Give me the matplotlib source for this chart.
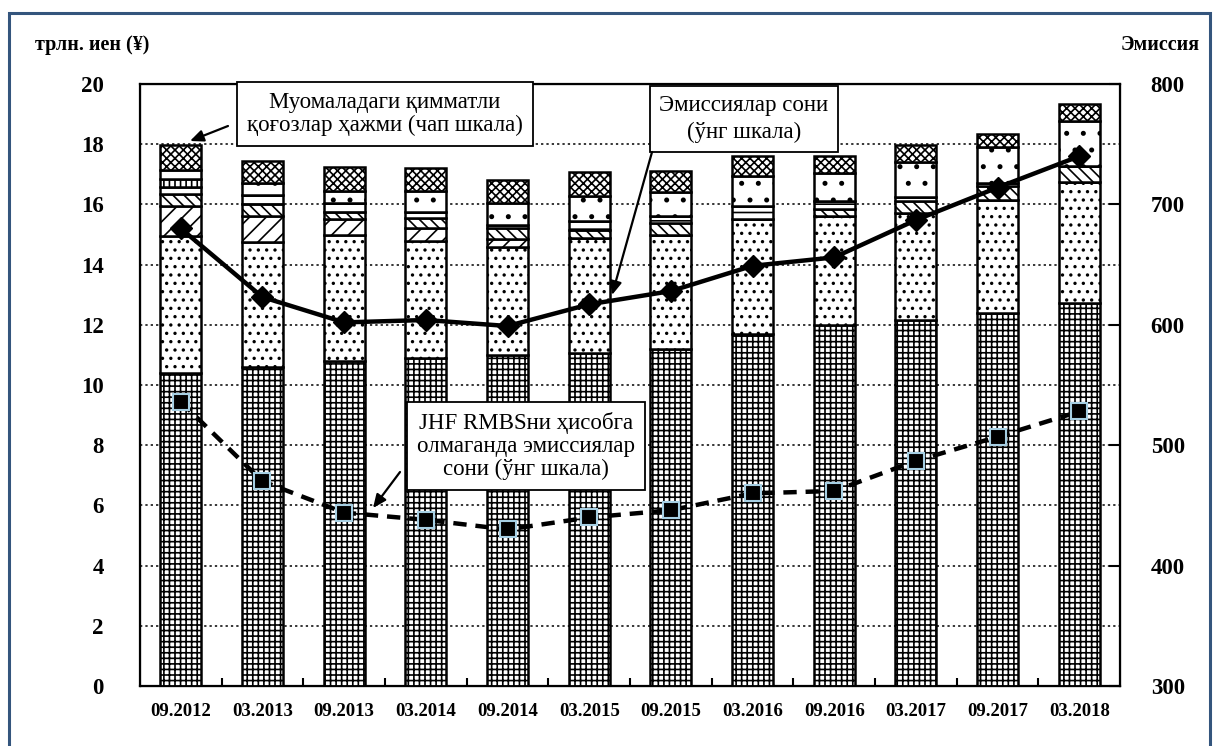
import numpy as np
import matplotlib
matplotlib.use('Agg')
import matplotlib.pyplot as plt
from matplotlib.patches import Rectangle

plt.rcParams['font.family'] = ['Liberation Serif', 'DejaVu Serif']
plt.rcParams['hatch.linewidth'] = 1.2

# даты (категории)
periods = ['09.2012', '03.2013', '09.2013', '03.2014', '09.2014', '03.2015',
           '09.2015', '03.2016', '09.2016', '03.2017', '09.2017', '03.2018']

# сегменты столбцов, трлн иен (снизу вверх)
seg_a = [10.4, 10.6, 10.8, 10.9, 11.0, 11.07, 11.2, 11.7, 12.0, 12.15, 12.4, 12.73]
seg_b = [4.55, 4.16, 4.2, 3.9, 3.6, 3.8, 3.8, 3.8, 3.6, 3.55, 3.75, 4.0]
seg_c = [1.0, 0.84, 0.5, 0.4, 0.25, 0.0, 0.0, 0.0, 0.0, 0.0, 0.0, 0.0]
seg_d = [0.4, 0.4, 0.25, 0.35, 0.35, 0.27, 0.38, 0.0, 0.25, 0.4, 0.45, 0.55]
seg_e = [0.24, 0.3, 0.3, 0.2, 0.1, 0.3, 0.22, 0.45, 0.25, 0.15, 0.1, 0.0]
seg_f = [0.25, 0.0, 0.0, 0.0, 0.0, 0.0, 0.0, 0.0, 0.0, 0.0, 0.0, 0.0]
seg_g = [0.3, 0.4, 0.4, 0.7, 0.75, 0.85, 0.8, 1.0, 0.95, 1.15, 1.2, 1.5]
seg_h = [0.83, 0.75, 0.8, 0.75, 0.75, 0.8, 0.7, 0.65, 0.55, 0.58, 0.45, 0.55]

# число эмиссий (правая шкала)
issues_all = [680, 623, 602, 604, 599, 617, 628, 649, 656, 687, 714, 740]
issues_ex_jhf = [536, 470, 444, 438, 430, 440, 446, 460, 462, 487, 507, 528]

segments = [seg_a, seg_b, seg_c, seg_d, seg_e, seg_f, seg_g, seg_h]
hatches = ['+++', '..', '//', '\\\\\\', '--', '|||', '.', 'xxxx']

fig = plt.figure(figsize=(12.13, 7.46), dpi=100)
ax = fig.add_axes([0.1154, 0.0804, 0.808, 0.807])
x = np.arange(len(periods))

bottom = np.zeros(len(periods))
for vals, h in zip(segments, hatches):
    vals = np.array(vals)
    ax.bar(x, vals, 0.5, bottom=bottom, color='white', edgecolor='black',
           hatch=h, linewidth=1.8, zorder=3)
    bottom += vals

ax.set_xlim(-0.5, len(periods) - 0.5)
ax.set_ylim(0, 20)
ax.set_yticks(np.arange(0, 21, 2))
ax.yaxis.grid(True, color='black', linestyle=(0, (1.5, 2)), linewidth=1.1, zorder=0)
ax.set_xticks(x)
ax.set_xticklabels(periods, fontsize=13.5, fontweight='bold')
ax.set_xticks(np.arange(0.5, len(periods) - 0.5, 1), minor=True)
ax.tick_params(axis='x', which='major', length=0, pad=12)
ax.tick_params(axis='x', which='minor', direction='in', length=6, width=1.5)
ax.tick_params(axis='y', length=0, pad=26, labelsize=16.5)
for lab in ax.get_yticklabels():
    lab.set_fontweight('bold')
for s in ax.spines.values():
    s.set_linewidth(1.6)

ax2 = ax.twinx()
ax2.set_ylim(300, 800)
ax2.set_yticks(np.arange(300, 801, 100))
ax2.tick_params(axis='y', direction='in', length=8, width=1.5, pad=22, labelsize=16.5)
for lab in ax2.get_yticklabels():
    lab.set_fontweight('bold')

ax2.plot(x, issues_all, color='black', linewidth=3.2, marker='D', markersize=11,
         zorder=5)
ax2.plot(x, issues_ex_jhf, color='black', linewidth=3.2, linestyle=(0, (3, 2)),
         marker='s', markersize=11, markerfacecolor='black',
         markeredgecolor='#a6cfe3', markeredgewidth=1.5, zorder=5)

# подписи-выноски
box = dict(boxstyle='square,pad=0.42', facecolor='white', edgecolor='black', linewidth=1.3)
arrow = dict(arrowstyle='-|>,head_length=0.8,head_width=0.35', color='black', lw=1.6,
             shrinkA=0, shrinkB=0)

def pix(px, py):
    return ((px - 140) / 980, (686 - py) / 602)

ax2.text(*pix(385, 114), 'Муомаладаги қимматли\nқоғозлар ҳажми (чап шкала)',
         transform=ax2.transAxes, ha='center', va='center', fontsize=16.5,
         linespacing=1.15, bbox=box, zorder=10)
ax2.annotate('', xy=pix(190, 141), xytext=pix(228, 126), xycoords='axes fraction',
             textcoords='axes fraction', arrowprops=arrow, zorder=10)

ax2.text(*pix(744, 119), 'Эмиссиялар сони\n(ўнг шкала)',
         transform=ax2.transAxes, ha='center', va='center', fontsize=16.5,
         linespacing=1.3, bbox=box, zorder=10)
ax2.annotate('', xy=pix(612, 295), xytext=pix(652, 152), xycoords='axes fraction',
             textcoords='axes fraction', arrowprops=arrow, zorder=10)

ax2.text(*pix(526, 446), 'JHF RMBSни ҳисобга\nолмаганда эмиссиялар\nсони (ўнг шкала)',
         transform=ax2.transAxes, ha='center', va='center', fontsize=16.5,
         linespacing=1.12, bbox=box, zorder=10)
ax2.annotate('', xy=pix(373, 508), xytext=pix(400, 472), xycoords='axes fraction',
             textcoords='axes fraction', arrowprops=arrow, zorder=10)

fig.text(35 / 1213, 1 - 45 / 746, 'трлн. иен (¥)', fontsize=14.5, fontweight='bold',
         ha='left', va='center')
fig.text(1200 / 1213, 1 - 45 / 746, 'Эмиссия', fontsize=14.5, fontweight='bold',
         ha='right', va='center')

fig.patches.append(Rectangle((9 / 1213, -0.05), 1201 / 1213, 1.05 - 13 / 746,
                             transform=fig.transFigure, fill=False,
                             edgecolor='#34557d', linewidth=2.2))

fig.savefig('out.png', dpi=100)
